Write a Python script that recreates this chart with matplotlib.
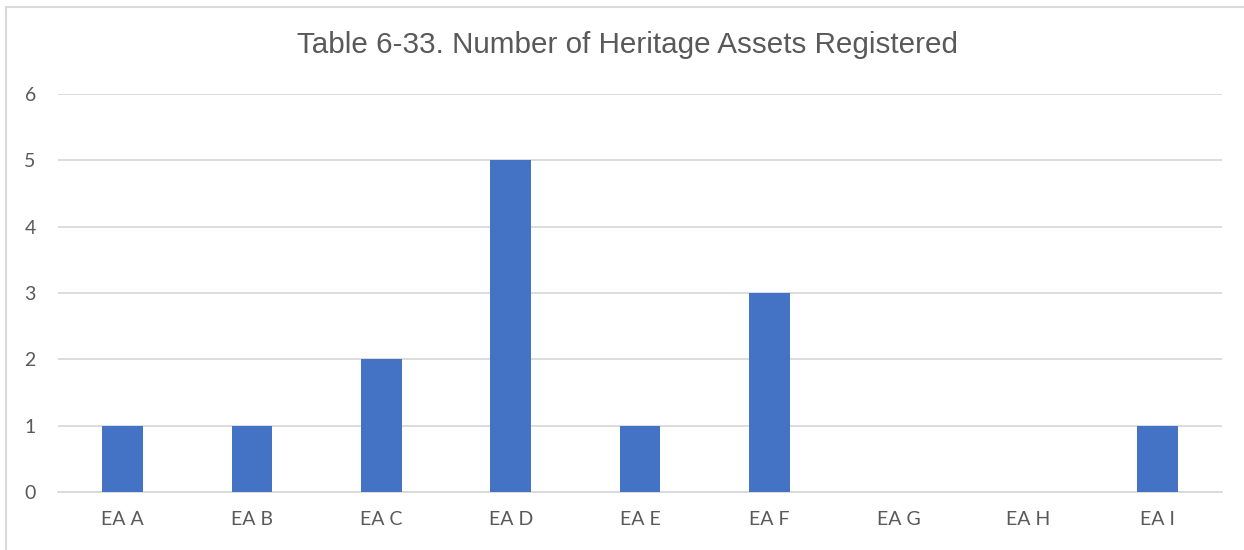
import matplotlib
matplotlib.use("Agg")
import matplotlib.pyplot as plt
from matplotlib.patches import Rectangle

categories = ["EA A", "EA B", "EA C", "EA D", "EA E", "EA F", "EA G", "EA H", "EA I"]
values = [1, 1, 2, 5, 1, 3, 0, 0, 1]
yticks = [0, 1, 2, 3, 4, 5, 6]
title = "Table 6-33. Number of Heritage Assets Registered"

W, H = 1244, 550
fig = plt.figure(figsize=(W / 100, H / 100), dpi=100)
fig.patch.set_facecolor("white")

# outer chart border
fig.patches.append(Rectangle((6 / W, 0 - 0.01), 1.2, (H - 7) / H + 0.01,
                             transform=fig.transFigure, fill=False,
                             edgecolor="#D9D9D9", linewidth=1.5))

left, right, top, bottom = 58, 1222, 94, 492
ax = fig.add_axes([left / W, 1 - bottom / H, (right - left) / W, (bottom - top) / H])

x = list(range(len(categories)))
ax.bar(x, values, width=0.313, color="#4472C4", zorder=3)
ax.set_xlim(-0.5, len(categories) - 0.5)
ax.set_ylim(0, 6)
ax.set_yticks(yticks)
ax.set_xticks(x)
ax.set_xticklabels(categories)

ax.grid(axis="y", color="#D9D9D9", linewidth=1.3, zorder=0)
for s in ["top", "right", "left"]:
    ax.spines[s].set_visible(False)
ax.spines["bottom"].set_color("#D9D9D9")
ax.spines["bottom"].set_linewidth(1.3)
ax.tick_params(axis="both", length=0, labelsize=14, labelcolor="#595959")
ax.tick_params(axis="y", pad=16)
ax.tick_params(axis="x", pad=14)
for lab in ax.get_xticklabels() + ax.get_yticklabels():
    lab.set_fontfamily("Lato")

fig.text(0.5 * (298 + 958) / W, 1 - 45 / H, title, ha="center", va="center",
         fontsize=21.3, color="#595959", fontfamily="Liberation Sans")

fig.savefig("out.png", dpi=100)
